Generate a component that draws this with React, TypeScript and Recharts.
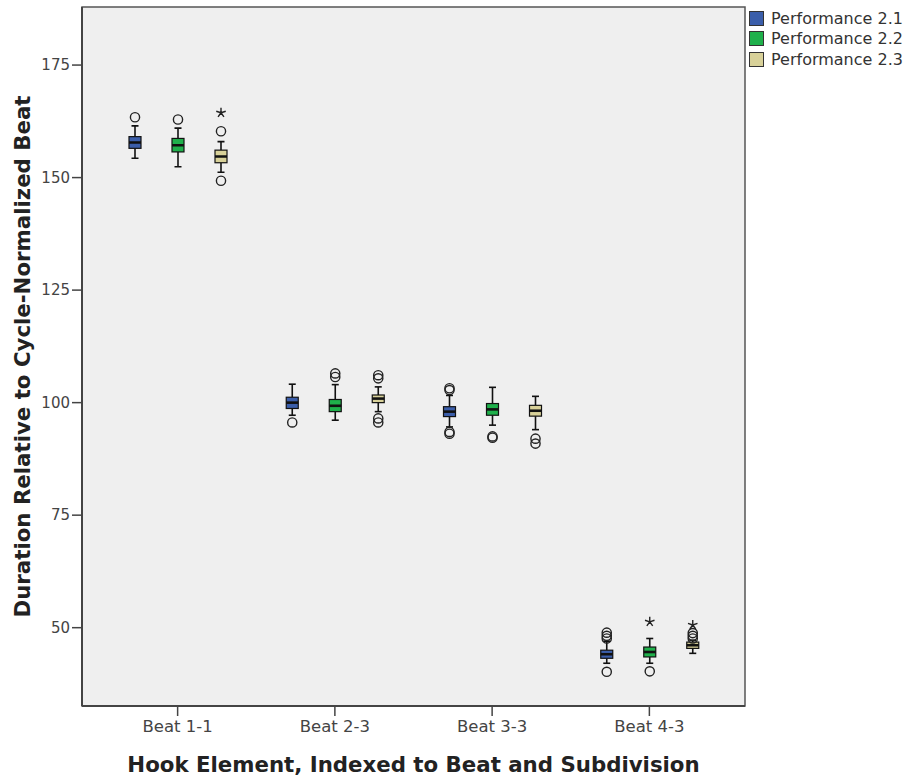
import { BarChart, Bar, XAxis, YAxis, ReferenceArea } from 'recharts';

const beats = ['Beat 1-1', 'Beat 2-3', 'Beat 3-3', 'Beat 4-3'];
const seriesNames = ['Performance 2.1', 'Performance 2.2', 'Performance 2.3'];
const colors = ['#3b5eaa', '#1fb04b', '#d8d199'];
const yTicks = [50, 75, 100, 125, 150, 175];
const yDomain = [32.6, 187.9];

// Performance 2.1
const p21Low = [154.3, 97.2, 94.6, 42.1];
const p21Q1 = [156.5, 98.7, 96.9, 43.2];
const p21Med = [157.8, 100.0, 98.0, 44.1];
const p21Q3 = [159.1, 101.2, 99.1, 45.0];
const p21High = [161.5, 104.1, 101.6, 47.0];
const p21Outliers = [[163.4], [95.6], [103.2, 102.8, 93.5, 93.1], [48.9, 48.2, 47.6, 40.2]];
const p21Extremes: number[][] = [[], [], [], []];

// Performance 2.2
const p22Low = [152.4, 96.1, 95.0, 42.1];
const p22Q1 = [155.7, 98.0, 97.2, 43.5];
const p22Med = [157.2, 99.3, 98.5, 44.6];
const p22Q3 = [158.7, 100.7, 99.8, 45.7];
const p22High = [161.0, 104.0, 103.4, 47.6];
const p22Outliers = [[162.9], [106.5, 105.7], [92.5, 92.2], [40.3]];
const p22Extremes: number[][] = [[], [], [], [51.3]];

// Performance 2.3
const p23Low = [151.2, 98.0, 94.0, 44.3];
const p23Q1 = [153.3, 100.0, 97.0, 45.4];
const p23Med = [154.7, 100.9, 98.2, 46.1];
const p23Q3 = [156.1, 101.7, 99.4, 46.8];
const p23High = [158.0, 103.5, 101.4, 47.2];
const p23Outliers = [[160.3, 149.3], [106.1, 105.4, 96.5, 95.6], [92.0, 90.9], [48.8, 48.2, 47.6]];
const p23Extremes: number[][] = [[164.4], [], [], [50.6]];

const series = [
  { low: p21Low, q1: p21Q1, med: p21Med, q3: p21Q3, high: p21High, out: p21Outliers, ext: p21Extremes },
  { low: p22Low, q1: p22Q1, med: p22Med, q3: p22Q3, high: p22High, out: p22Outliers, ext: p22Extremes },
  { low: p23Low, q1: p23Q1, med: p23Med, q3: p23Q3, high: p23High, out: p23Outliers, ext: p23Extremes },
];

// each bar spans the full range of one box (whiskers + outliers), the shape draws the box inside it
const data = beats.map((beat, i) => {
  const row: any = { beat };
  series.forEach((s, k) => {
    const all = [s.low[i], s.high[i], ...s.out[i], ...s.ext[i]];
    row['r' + k] = [Math.min(...all), Math.max(...all)];
  });
  return row;
});

const FONT = '"DejaVu Sans", sans-serif';

function renderBox(props: any, k: number) {
  const { x, y, width, height, payload } = props;
  const i = beats.indexOf(payload.beat);
  const s = series[k];
  const [mn, mx] = payload['r' + k];
  const ratio = height / (mx - mn);
  const py = (v: number) => y + (mx - v) * ratio;
  const cx = x + width / 2;
  const cap = 3.5;
  return (
    <g>
      <line x1={cx} x2={cx} y1={py(s.high[i])} y2={py(s.q3[i])} stroke="#111" strokeWidth={1.6} />
      <line x1={cx} x2={cx} y1={py(s.q1[i])} y2={py(s.low[i])} stroke="#111" strokeWidth={1.6} />
      <line x1={cx - cap} x2={cx + cap} y1={py(s.high[i])} y2={py(s.high[i])} stroke="#111" strokeWidth={1.6} />
      <line x1={cx - cap} x2={cx + cap} y1={py(s.low[i])} y2={py(s.low[i])} stroke="#111" strokeWidth={1.6} />
      <rect x={x} y={py(s.q3[i])} width={width} height={py(s.q1[i]) - py(s.q3[i])} fill={colors[k]} stroke="#111" strokeWidth={1.2} />
      <line x1={x} x2={x + width} y1={py(s.med[i])} y2={py(s.med[i])} stroke="#111" strokeWidth={2.6} />
      {s.out[i].map((v, j) => (
        <circle key={'o' + j} cx={cx} cy={py(v)} r={4.6} fill="none" stroke="#222" strokeWidth={1.4} />
      ))}
      {s.ext[i].map((v, j) => {
        const cy = py(v);
        const arms = [0, 1, 2, 3, 4].map((a) => {
          const ang = (-90 + a * 72) * Math.PI / 180;
          return `M${cx},${cy}L${cx + 5 * Math.cos(ang)},${cy + 5 * Math.sin(ang)}`;
        });
        return <path key={'e' + j} d={arms.join('')} stroke="#222" strokeWidth={1.4} fill="none" />;
      })}
    </g>
  );
}

export default function App() {
  return (
    <div style={{ position: 'absolute', left: 0, top: 0, width: 909, height: 783, background: '#fff' }}>
      <BarChart
        width={909}
        height={783}
        data={data}
        margin={{ top: 7, right: 164, left: 0, bottom: 0 }}
        barSize={12}
        barGap={31}
      >
        {/* hidden axis only used to span the plot frame across the full width */}
        <XAxis xAxisId="frame" type="number" domain={[0, 3]} allowDataOverflow hide />
        <ReferenceArea
          xAxisId="frame"
          x1={0}
          x2={3}
          y1={yDomain[0]}
          y2={yDomain[1]}
          fill="#efefef"
          fillOpacity={1}
          stroke="#555"
          strokeWidth={1.5}
          ifOverflow="visible"
        />
        <XAxis
          dataKey="beat"
          height={77}
          padding={{ left: 17, right: 17 }}
          tickSize={10}
          tickMargin={4}
          axisLine={{ stroke: '#444', strokeWidth: 2 }}
          tickLine={{ stroke: '#444', strokeWidth: 1.5 }}
          tick={{ fill: '#444', fontSize: 16.5, fontFamily: FONT }}
          label={{
            value: 'Hook Element, Indexed to Beat and Subdivision',
            position: 'center',
            dy: 20,
            style: { fill: '#222', fontSize: 21.3, fontWeight: 'bold', fontFamily: FONT },
          }}
        />
        <YAxis
          type="number"
          width={82}
          domain={yDomain}
          ticks={yTicks}
          allowDataOverflow
          tickSize={10}
          tickMargin={2}
          axisLine={{ stroke: '#444', strokeWidth: 2 }}
          tickLine={{ stroke: '#444', strokeWidth: 1.5 }}
          tick={{ fill: '#444', fontSize: 15, fontFamily: FONT }}
          label={{
            value: 'Duration Relative to Cycle-Normalized Beat',
            angle: -90,
            position: 'center',
            dx: -19,
            style: { fill: '#222', fontSize: 21.3, fontWeight: 'bold', fontFamily: FONT },
          }}
        />
        {seriesNames.map((name, k) => (
          <Bar
            key={name}
            name={name}
            dataKey={'r' + k}
            fill={colors[k]}
            isAnimationActive={false}
            shape={(p: any) => renderBox(p, k)}
          />
        ))}
      </BarChart>
      <div style={{ position: 'absolute', left: 749, top: 8, fontFamily: FONT, fontSize: 16, color: '#333' }}>
        {seriesNames.map((name, k) => (
          <div key={name} style={{ display: 'flex', alignItems: 'center', height: 20.5 }}>
            <span style={{ display: 'inline-block', width: 13, height: 13, background: colors[k], border: '1px solid #333', marginRight: 7 }} />
            <span>{name}</span>
          </div>
        ))}
      </div>
    </div>
  );
}
